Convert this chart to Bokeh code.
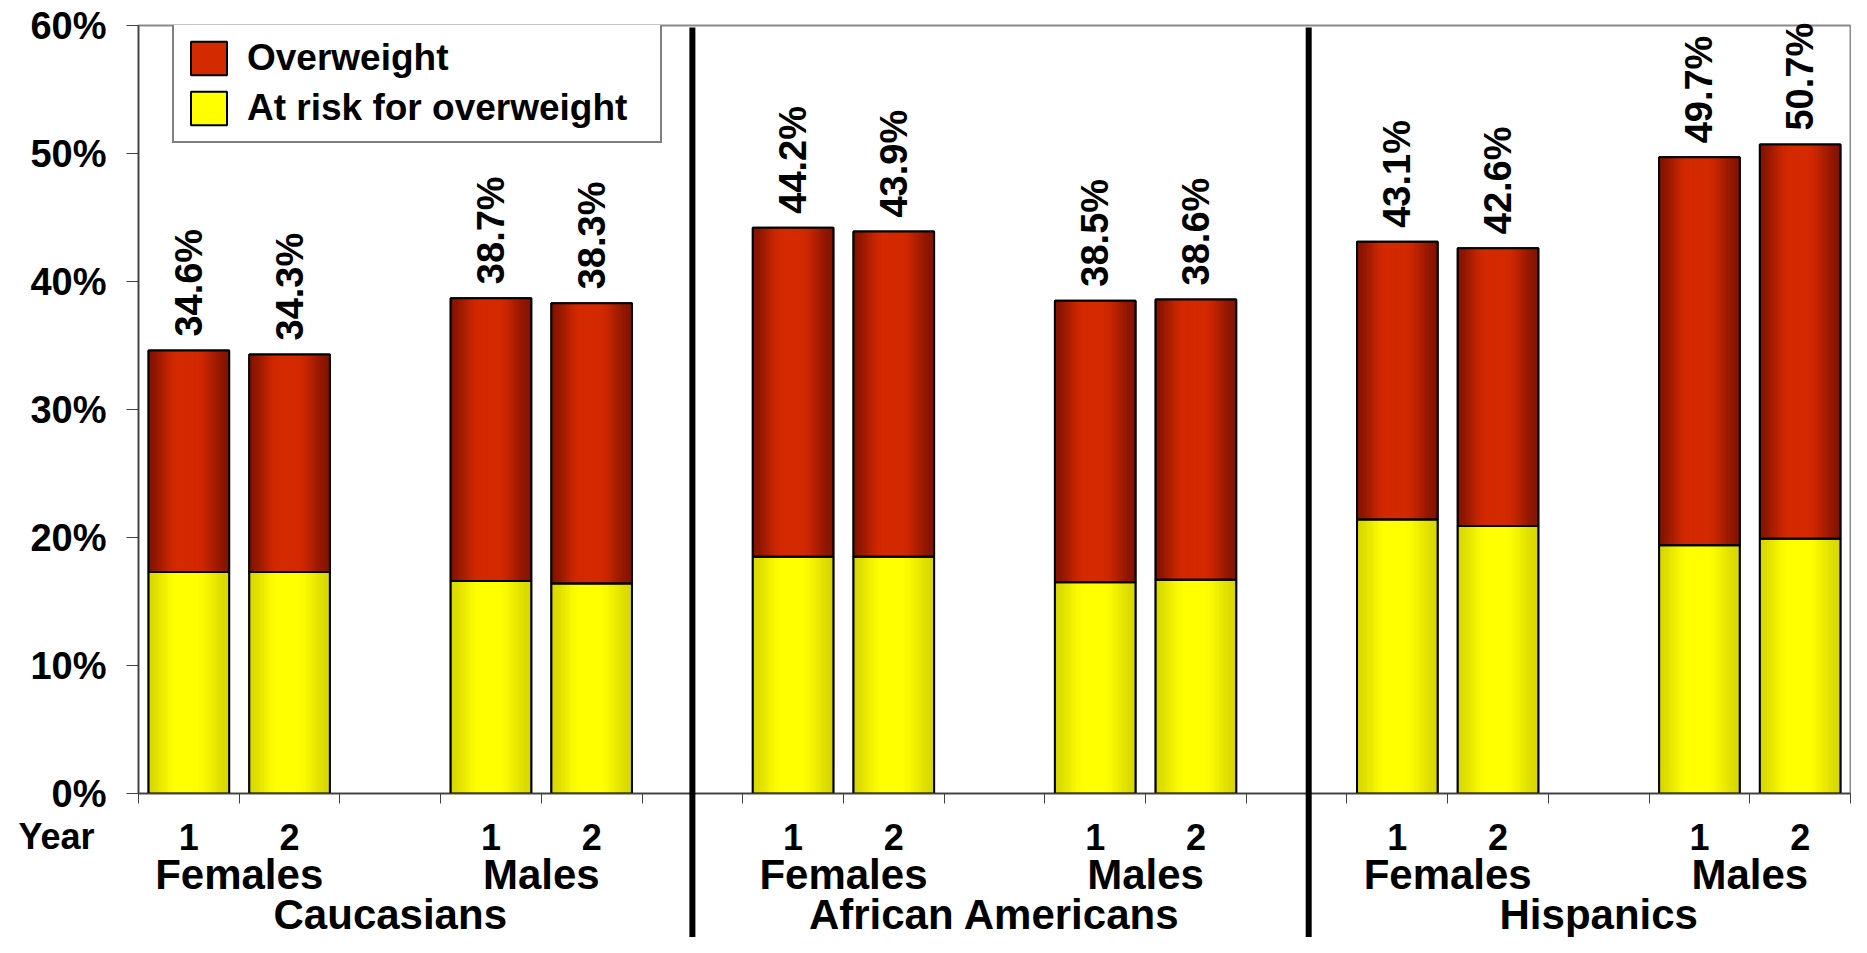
import math
from bokeh.plotting import figure
from bokeh.models import (ColumnDataSource, FixedTicker, Legend, LegendItem, Range1d)
from bokeh.core.properties import value
from bokeh.transform import dodge
from bokeh.embed import file_html
from bokeh.resources import INLINE

# ---------------- data ----------------
races = ["Caucasians", "African Americans", "Hispanics"]
sexes = ["Females", "Males"]
years = ["1", "2"]
# order: race -> sex -> year
total_pct = [34.6, 34.3, 38.7, 38.3, 44.2, 43.9, 38.5, 38.6, 43.1, 42.6, 49.7, 50.7]
at_risk_pct = [17.3, 17.3, 16.6, 16.4, 18.5, 18.5, 16.5, 16.7, 21.4, 20.9, 19.4, 19.9]
series_names = ["Overweight", "At risk for overweight"]
y_ticks = [0, 10, 20, 30, 40, 50, 60]
year_axis_title = "Year"

# ---------------- layout helpers ----------------
FONT_NAME = "Liberation Sans"
FONT = value(FONT_NAME)
slots_per_race = 6          # F1 F2 gap M1 M2 separator
n_slots = 17
bar_w = 0.8

xs, yr_lab = [], []
for r in range(len(races)):
    for s in range(len(sexes)):
        for y in range(len(years)):
            xs.append(r * slots_per_race + s * 3 + y + 0.5)
            yr_lab.append(years[y])
sex_x, sex_lab = [], []
for r in range(len(races)):
    for s in range(len(sexes)):
        sex_x.append(r * slots_per_race + s * 3 + 1.0)
        sex_lab.append(sexes[s])
race_x = [r * slots_per_race + 2.5 for r in range(len(races))]
sep_x = [5.5, 11.62]

src = ColumnDataSource(dict(
    x=xs, total=total_pct, risk=at_risk_pct, zero=[0] * len(xs),
    label=[f"{v:.1f}%" for v in total_pct], year=yr_lab,
))

p = figure(width=1851, height=937, output_backend="svg", toolbar_location=None,
           x_range=Range1d(0, n_slots), y_range=Range1d(0, 60),
           min_border_left=138, min_border_right=1, min_border_top=25,
           min_border_bottom=144)
p.xgrid.grid_line_color = None
p.ygrid.grid_line_color = None
p.outline_line_color = "#8a8a8a"
p.outline_line_width = 2
p.background_fill_color = "white"
p.border_fill_color = "white"

# y axis
ya = p.yaxis[0]
ya.ticker = FixedTicker(ticks=y_ticks)
ya.major_label_overrides = {t: f"{t}%" for t in y_ticks}
ya.major_label_text_font = FONT_NAME
ya.major_label_text_font_style = "bold"
ya.major_label_text_font_size = "38px"
ya.major_label_text_color = "black"
ya.major_label_standoff = 20
ya.major_tick_out = 12
ya.major_tick_in = 0
ya.minor_tick_line_color = None
ya.axis_line_color = "#404040"
ya.axis_line_width = 1.5
ya.major_tick_line_color = "#404040"

# x axis: ticks at slot boundaries, no labels
xa = p.xaxis[0]
xa.ticker = FixedTicker(ticks=list(range(n_slots + 1)))
xa.major_label_text_color = None
xa.major_label_text_font_size = "1px"
xa.major_tick_out = 10
xa.major_tick_in = 0
xa.minor_tick_line_color = None
xa.axis_line_color = "#404040"
xa.axis_line_width = 1.5
xa.major_tick_line_color = "#404040"

# ---------------- bars with gradient ----------------
red_dark, red_light = (0x84, 0x14, 0x00), (0xd4, 0x2a, 0x00)
yel_dark, yel_light = (0xd8, 0xd8, 0x00), (0xff, 0xff, 0x00)


def shade(t):
    if t < 0.36:
        b = t / 0.36
    elif t < 0.6:
        b = 1.0
    else:
        b = (1 - t) / 0.4
    b = max(0.0, min(1.0, b))
    return b * b * (3 - 2 * b) * 0.85 + b * 0.15


def mix(c0, c1, b):
    return "#%02x%02x%02x" % tuple(int(round(a + (c - a) * b)) for a, c in zip(c0, c1))


base_y = p.vbar(x="x", width=bar_w, bottom="zero", top="risk", source=src,
                fill_color=mix(yel_dark, yel_light, 1), line_color="black", line_width=2)
base_r = p.vbar(x="x", width=bar_w, bottom="risk", top="total", source=src,
                fill_color=mix(red_dark, red_light, 1), line_color="black", line_width=2)

n_strips = 32
dw = bar_w / n_strips
for k in range(n_strips):
    t = (k + 0.5) / n_strips
    off = -bar_w / 2 + (k + 0.5) * dw
    b = shade(t)
    cy = mix(yel_dark, yel_light, b)
    cr = mix(red_dark, red_light, b)
    p.vbar(x=dodge("x", off), width=dw * 1.05, bottom="zero", top="risk", source=src,
           fill_color=cy, line_color=cy, line_width=0.6)
    p.vbar(x=dodge("x", off), width=dw * 1.05, bottom="risk", top="total", source=src,
           fill_color=cr, line_color=cr, line_width=0.6)

p.vbar(x="x", width=bar_w, bottom="zero", top="risk", source=src,
       fill_color=None, line_color="black", line_width=2)
p.vbar(x="x", width=bar_w, bottom="risk", top="total", source=src,
       fill_color=None, line_color="black", line_width=2)

# value labels (rotated)
p.text(x="x", y="total", text="label", source=src, angle=math.pi / 2,
       text_align="left", text_baseline="middle", y_offset=-14,
       text_font=FONT, text_font_style="bold", text_font_size="38px",
       text_color="black", level="overlay")

# ---------------- category labels below axis ----------------
p.text(x="x", y="zero", text="year", source=src, text_align="center",
       text_baseline="alphabetic", y_offset=43, text_font=FONT,
       text_font_style="bold", text_font_size="36px", text_color="black",
       level="overlay")
p.text(x=[0], y=[0], text=[year_axis_title], text_align="left",
       text_baseline="alphabetic", x_offset=-120, y_offset=43, text_font=FONT,
       text_font_style="bold", text_font_size="36px", text_color="black",
       level="overlay")
p.text(x=sex_x, y=[0] * len(sex_x), text=sex_lab, text_align="center",
       text_baseline="alphabetic", y_offset=81, text_font=FONT,
       text_font_style="bold", text_font_size="42px", text_color="black",
       level="overlay")
p.text(x=race_x, y=[0] * len(race_x), text=races, text_align="center",
       text_baseline="alphabetic", y_offset=121, text_font=FONT,
       text_font_style="bold", text_font_size="42px", text_color="black",
       level="overlay")

# separators
p.segment(x0=sep_x, y0=[59.85] * 2, x1=sep_x, y1=[-14] * 2,
          line_color="black", line_width=6, level="overlay")

# ---------------- legend ----------------
legend = Legend(
    items=[LegendItem(label=series_names[0], renderers=[base_r]),
           LegendItem(label=series_names[1], renderers=[base_y])],
    location=(34, 650), orientation="vertical",
    glyph_width=45, glyph_height=42, label_standoff=16,
    label_text_font=FONT_NAME, label_text_font_style="bold", label_text_font_size="37px",
    label_text_color="black", label_width=401, label_height=34,
    padding=12, spacing=8, margin=0,
    border_line_color="black", border_line_width=2,
    background_fill_color="white", background_fill_alpha=1.0,
)
p.add_layout(legend)

open("out.html", "w").write(file_html(p, INLINE))
